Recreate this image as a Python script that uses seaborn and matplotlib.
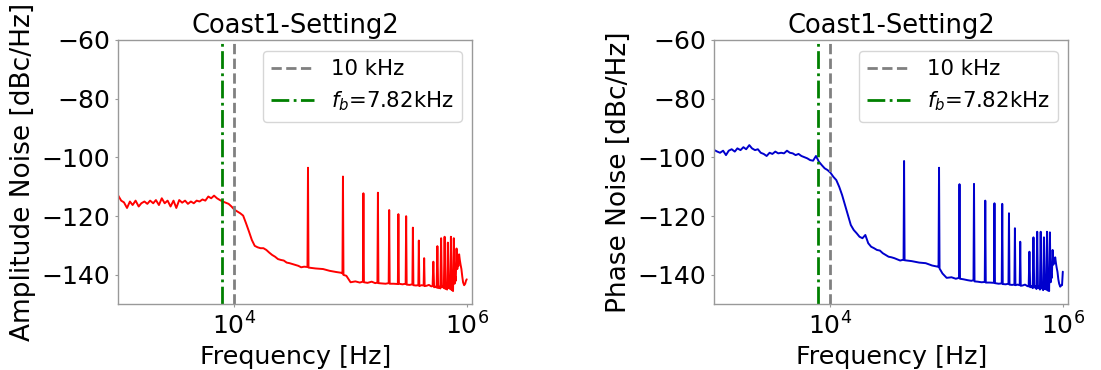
import matplotlib
matplotlib.use("Agg")
import matplotlib.pyplot as plt
import matplotlib.ticker as mticker
import seaborn as sns
import pandas as pd

# ---------------- data ----------------
freq_hz = [
    # flat region
    1000, 1060, 1120, 1190, 1260, 1330, 1410, 1500, 1580, 1680, 1780, 1880,
    2000, 2110, 2240, 2370, 2510, 2660, 2820, 2990, 3160, 3350, 3550, 3760,
    3980, 4220, 4470, 4730, 5010, 5310, 5620, 5960, 6310, 6680, 7080, 7500, 7940,
    # roll-off region
    8410, 8910, 9440, 10000, 10590, 11220, 11890, 12590, 13340, 14130, 14960,
    15850, 16790, 17780, 18840, 19950, 21130, 22390, 23710, 25120, 26610,
    28180, 29850, 31620, 33500, 35480, 37580, 39810,
    # floor with spurs
    42570, 43000, 43430, 50000, 58000, 66000, 75000, 84000,
    85140, 86000, 86860, 92000, 100000, 110000, 120000,
    127710, 129000, 130290, 140000, 152000, 163000,
    170280, 172000, 173720, 185000, 200000,
    212850, 215000, 217150, 235000,
    255420, 258000, 260580, 280000,
    297990, 301000, 304010, 322000,
    340560, 344000, 347440, 365000,
    383130, 387000, 390870, 408000,
    425700, 430000, 434300, 450000, 473000, 495000,
    508260, 516000, 523740, 537000,
    550615, 559000, 567385, 580000,
    592970, 602000, 611030, 623000,
    635325, 645000, 654675, 666000,
    677680, 688000, 698320, 709000,
    720035, 731000, 741965, 752000,
    762390, 774000, 785610, 795000,
    804745, 817000, 829255, 838000,
    847100, 860000, 872900, 885000,
    900000, 915000, 930000, 950000, 970000, 985000, 1000000,
]

amplitude_noise = [
    -113.0, -114.7, -115.3, -117.2, -115.0, -116.2, -114.7, -116.7, -115.6, -115.0,
    -115.8, -114.7, -115.6, -114.5, -116.2, -113.9, -115.6, -114.7, -116.7, -114.7,
    -117.2, -114.5, -115.4, -114.7, -115.8, -115.0, -115.6, -114.7, -115.0, -114.3,
    -114.7, -113.3, -113.9, -113.0, -113.9, -114.5, -115.0,
    -115.4, -115.8, -116.7, -117.8, -118.4, -119.0, -119.8, -122.4, -125.2, -128.1,
    -130.1, -130.6, -130.9, -130.9, -131.5, -132.4, -133.2, -133.8, -134.6, -134.9,
    -135.1, -135.8, -136.0, -136.3, -136.6, -136.9, -137.4, -137.2,
    -137.3, -103.5, -137.5, -137.8, -138.0, -138.6, -139.0, -139.3,
    -139.5, -106.5, -140.0, -140.3, -142.5, -142.2, -142.6,
    -142.3, -112.2, -142.5, -142.7, -142.3, -142.8,
    -142.6, -112.0, -142.8, -142.9, -143.0,
    -142.8, -117.9, -143.0, -143.0,
    -143.1, -119.3, -143.0, -143.2,
    -143.0, -120.0, -143.3, -143.4,
    -143.2, -123.9, -143.5, -143.6,
    -143.5, -128.3, -143.8, -143.5,
    -143.6, -134.3, -143.8, -143.7, -143.4, -143.9,
    -143.8, -135.5, -144.2, -144.0,
    -144.3, -130.2, -144.5, -144.0,
    -144.6, -127.5, -144.2, -143.8,
    -144.5, -127.0, -144.8, -144.0,
    -145.0, -129.0, -144.5, -143.5,
    -144.8, -127.0, -145.2, -143.0,
    -145.5, -127.5, -143.0, -140.5,
    -142.0, -131.0, -138.0, -136.0,
    -137.0, -133.0, -135.0, -136.5,
    -138.0, -140.5, -142.5, -143.5, -143.0, -142.0, -141.5,
]

phase_noise = [
    -97.5, -98.0, -98.4, -97.7, -99.2, -97.7, -97.2, -98.0, -96.9, -97.5,
    -96.5, -97.2, -95.8, -96.9, -97.5, -97.2, -98.4, -98.8, -99.5, -98.4,
    -98.8, -98.0, -98.6, -98.4, -98.6, -97.7, -98.4, -98.6, -99.2, -98.8,
    -99.5, -99.9, -100.3, -100.9, -101.1, -99.5, -101.4,
    -102.6, -103.7, -104.3, -105.2, -106.6, -107.7, -110.0, -112.8, -116.2, -119.6,
    -123.0, -124.7, -125.8, -127.0, -127.5, -126.4, -129.2, -130.4, -130.9, -131.5,
    -131.7, -132.6, -133.2, -133.8, -134.0, -134.3, -134.7, -135.1,
    -134.8, -101.2, -135.0, -135.3, -135.8, -136.0, -136.8, -137.2,
    -137.3, -103.5, -137.8, -139.5, -141.0, -140.8, -141.3,
    -141.0, -109.1, -141.3, -141.5, -141.8, -142.0,
    -141.8, -109.0, -142.2, -142.3, -142.5,
    -142.4, -114.7, -142.6, -142.6,
    -142.7, -115.6, -142.8, -143.0,
    -142.9, -115.8, -143.1, -143.2,
    -143.0, -119.0, -143.3, -143.4,
    -143.3, -124.1, -143.5, -143.3,
    -143.5, -128.7, -143.7, -143.6, -143.3, -143.8,
    -143.9, -132.1, -144.2, -143.8,
    -144.5, -127.2, -144.3, -143.9,
    -144.8, -125.3, -144.5, -144.0,
    -145.0, -125.3, -144.6, -144.0,
    -145.2, -127.2, -144.8, -143.5,
    -145.0, -125.3, -145.3, -143.2,
    -145.5, -125.5, -142.5, -139.5,
    -141.0, -131.5, -136.5, -135.5,
    -136.0, -134.0, -136.0, -137.5,
    -139.0, -141.5, -143.0, -144.0, -143.5, -143.5, -138.9,
]

marker_10khz = 1.0e4
f_b = 7.82e3
y_ticks = [-140, -120, -100, -80, -60]
x_ticks = [1e4, 1e6]
title = "Coast1-Setting2"
x_label = "Frequency [Hz]"
y_labels = ["Amplitude Noise [dBc/Hz]", "Phase Noise [dBc/Hz]"]
legend_labels = ["10 kHz", r"$f_b$=7.82kHz"]

df = pd.DataFrame({"freq": freq_hz, "amp": amplitude_noise, "phase": phase_noise})

# ---------------- style ----------------
sns.set_style("white")
plt.rcParams.update({
    "axes.edgecolor": "0.6",
    "axes.linewidth": 1.0,
    "xtick.bottom": True,
    "ytick.left": True,
    "xtick.color": "0.6",
    "ytick.color": "0.6",
    "xtick.labelcolor": "black",
    "ytick.labelcolor": "black",
    "xtick.major.size": 2.5,
    "ytick.major.size": 2.5,
    "text.color": "black",
    "axes.labelcolor": "black",
})
plt.rcParams["font.family"] = ["DejaVu Sans"]

fig = plt.figure(figsize=(11.01, 3.70), dpi=100)
ax1 = fig.add_axes([0.1074, 0.1776, 0.3215, 0.7143])
ax2 = fig.add_axes([0.6488, 0.1776, 0.3215, 0.7143])

for ax, col, color, ylab in [(ax1, "amp", "red", y_labels[0]),
                             (ax2, "phase", "mediumblue", y_labels[1])]:
    sns.lineplot(data=df, x="freq", y=col, ax=ax, color=color, lw=1.4,
                 estimator=None, legend=False)
    ax.axvline(marker_10khz, color="gray", ls="--", lw=2, label=legend_labels[0])
    ax.axvline(f_b, color="green", ls="-.", lw=2, label=legend_labels[1])
    ax.set_xscale("log")
    ax.set_xlim(1e3, 1.115e6)
    ax.set_ylim(-150, -60)
    ax.set_xticks(x_ticks)
    ax.xaxis.set_minor_locator(mticker.NullLocator())
    ax.set_yticks(y_ticks)
    ax.tick_params(axis="both", labelsize=18)
    ax.set_title(title, fontsize=18.5, pad=5)
    ax.set_xlabel(x_label, fontsize=18.3)
    ax.set_ylabel(ylab, fontsize=19)
    ax.legend(loc="upper right", fontsize=15.3)

fig.savefig("out.png", dpi=100)
